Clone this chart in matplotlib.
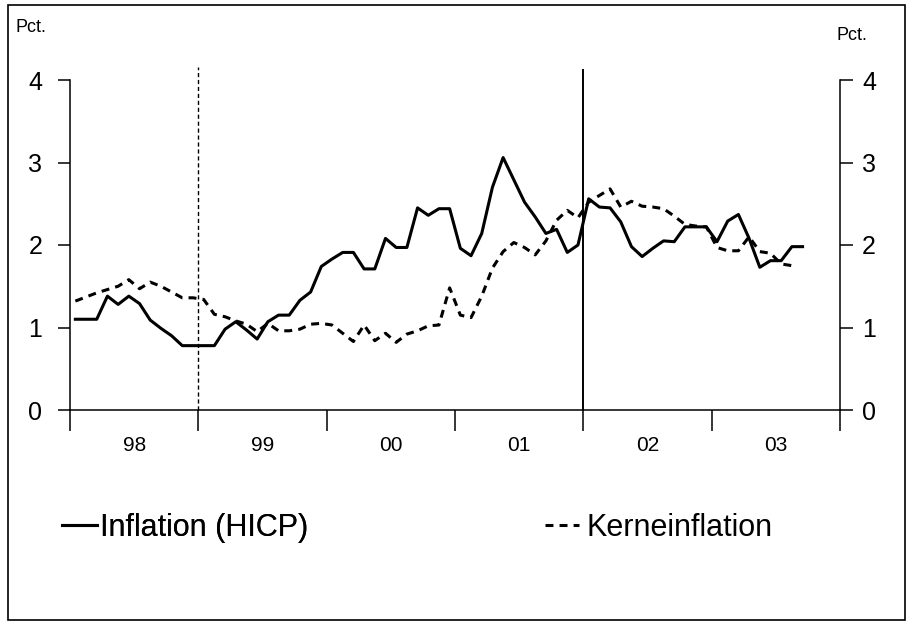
import matplotlib
matplotlib.use('Agg')
import matplotlib.pyplot as plt
import matplotlib.patches as mpatches
import numpy as np

# ---- data (monthly, Jan 1998 onward) ----
years = ['98', '99', '00', '01', '02', '03']
hicp = [1.10, 1.10, 1.10, 1.38, 1.28, 1.38, 1.29, 1.09, 0.99, 0.90, 0.78, 0.78,
        0.78, 0.78, 0.98, 1.07, 0.97, 0.86, 1.07, 1.15, 1.15, 1.33, 1.43, 1.74,
        1.83, 1.91, 1.91, 1.71, 1.71, 2.08, 1.97, 1.97, 2.45, 2.36, 2.44, 2.44,
        1.96, 1.87, 2.14, 2.70, 3.06, 2.79, 2.52, 2.34, 2.14, 2.19, 1.91, 2.00,
        2.56, 2.46, 2.45, 2.28, 1.98, 1.86, 1.96, 2.05, 2.04, 2.22, 2.22, 2.22,
        2.04, 2.29, 2.37, 2.08, 1.73, 1.81, 1.81, 1.98, 1.98]
core = [1.32, 1.37, 1.42, 1.46, 1.50, 1.58, 1.47, 1.55, 1.50, 1.43, 1.36, 1.36,
        1.34, 1.16, 1.13, 1.08, 1.04, 0.95, 1.05, 0.96, 0.96, 0.98, 1.04, 1.05,
        1.03, 0.93, 0.83, 1.03, 0.84, 0.93, 0.82, 0.92, 0.96, 1.02, 1.03, 1.48,
        1.15, 1.12, 1.38, 1.72, 1.92, 2.03, 1.97, 1.88, 2.05, 2.30, 2.42, 2.33,
        2.52, 2.60, 2.68, 2.46, 2.53, 2.47, 2.46, 2.44, 2.35, 2.25, 2.23, 2.22,
        1.97, 1.93, 1.93, 2.10, 1.92, 1.90, 1.77, 1.75]
hicp_label = 'Inflation (HICP)'
core_label = 'Kerneinflation'
unit_label = 'Pct.'
y_ticks = [0, 1, 2, 3, 4]
euro_start = 12      # Jan 1999 (month index)
cash_start = 48      # Jan 2002 (month index)

plt.rcParams['font.family'] = ['Liberation Sans', 'DejaVu Sans']

W, H = 909, 630
fig = plt.figure(figsize=(W / 100, H / 100), dpi=100)
ax = fig.add_axes([70 / W, 1 - 410 / H, 770 / W, 330 / H])

n_months = 12 * len(years)
l1, = ax.plot(np.arange(len(hicp)), hicp, color='black', lw=2.2)
l2, = ax.plot(np.arange(len(core)), core, color='black', lw=2.2, dashes=(2.6, 2.0))

ax.axvline(euro_start - 0.5, ymin=0, ymax=1.04, clip_on=False, color='black',
           lw=1.0, dashes=(3, 2))
ax.axvline(cash_start - 0.5, ymin=0, ymax=1.03, clip_on=False, color='black', lw=1.4)

ax.set_xlim(-0.5, n_months - 0.5)
ax.set_ylim(y_ticks[0], y_ticks[-1])
for s in ['top', 'right']:
    ax.spines[s].set_visible(False)
for s in ['left', 'bottom']:
    ax.spines[s].set_linewidth(1.1)

ax.set_xticks(np.arange(-0.5, n_months, 12))
ax.set_xticklabels([])
ax.set_xticks(np.arange(5.5, n_months, 12), minor=True)
ax.set_xticklabels(years, minor=True)
ax.tick_params(axis='x', which='major', length=15, width=1.1, direction='out')
ax.tick_params(axis='x', which='minor', length=0, pad=19, labelsize=15)
ax.set_yticks(y_ticks)
ax.tick_params(axis='y', length=9, width=1.1, pad=11, labelsize=18)

ax2 = ax.twinx()
ax2.set_ylim(y_ticks[0], y_ticks[-1])
ax2.set_yticks(y_ticks)
for s in ['top', 'left', 'bottom']:
    ax2.spines[s].set_visible(False)
ax2.spines['right'].set_linewidth(1.1)
ax2.tick_params(axis='y', length=9, width=1.1, pad=7, labelsize=18)

fig.text(31 / W, 1 - 28 / H, unit_label, ha='center', va='center', fontsize=13)
fig.text(852 / W, 1 - 36 / H, unit_label, ha='center', va='center', fontsize=13)

leg1 = fig.legend(handles=[l1], labels=[hicp_label], loc='center left',
                  bbox_to_anchor=(62 / W, 1 - 528 / H), frameon=False, fontsize=22,
                  handlelength=1.15, handletextpad=0.1, borderpad=0, borderaxespad=0)
fig.add_artist(leg1)
leg2 = fig.legend(handles=[l2], labels=[core_label], loc='center left',
                  bbox_to_anchor=(545 / W, 1 - 528 / H), frameon=False, fontsize=22,
                  handlelength=1.1, handletextpad=0.25, borderpad=0, borderaxespad=0)

fig.add_artist(mpatches.Rectangle((8 / W, 10 / H), 897 / W, 615 / H, transform=fig.transFigure,
                                  fill=False, lw=1.2, edgecolor='black'))

fig.savefig('out.png', dpi=100)
